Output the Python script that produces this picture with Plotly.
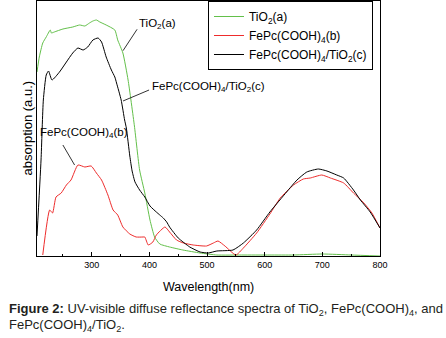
import plotly.graph_objects as go

# ---- data ----
tio2_nm = [205, 209, 215, 221, 228, 230, 235, 250, 267, 279, 288, 296, 302, 308, 314, 325, 340, 345,
           354, 363, 374, 383, 392, 401, 409, 418, 435, 458, 488, 517, 560, 609, 650, 700, 750, 800]
tio2_abs = [184, 199, 213, 219, 226, 223, 224, 227, 229, 231, 230, 233, 235, 236, 234, 231, 226, 216,
            203, 176, 130, 86, 63, 36, 19, 12, 9, 6, 3, 1, 1, 1, 1, 2, 1, 0]

fepc_nm = [215, 227, 232, 238, 247, 256, 264, 276, 288, 299, 308, 317, 328, 337, 345, 354, 366, 377,
           389, 392, 398, 406, 412, 427, 435, 447, 459, 476, 499, 511, 519, 531, 550, 563, 586, 609,
           627, 650, 667, 679, 699, 714, 737, 754, 772, 786, 800]
fepc_abs = [1, 46, 43, 59, 63, 71, 76, 91, 89, 90, 83, 76, 61, 46, 41, 29, 22, 19,
            19, 19, 11, 14, 21, 29, 24, 16, 13, 11, 10, 13, 15, 10, 1, 8, 23, 42,
            58, 71, 77, 78, 81, 78, 73, 63, 53, 43, 28]

comp_nm = [205, 212, 216, 221, 225, 231, 244, 256, 267, 276, 285, 293, 302, 311, 317, 325, 334, 340,
           343, 351, 357, 360, 366, 370, 375, 383, 392, 401, 412, 418, 424, 430, 435, 450, 470, 488,
           502, 517, 545, 563, 586, 609, 638, 656, 673, 693, 708, 725, 737, 754, 766, 783, 800]
comp_abs = [20, 96, 156, 181, 185, 176, 184, 194, 203, 208, 206, 209, 216, 218, 214, 199, 186, 179,
            173, 156, 136, 128, 100, 85, 74, 66, 59, 50, 44, 41, 38, 34, 29, 18, 9, 4,
            3, 5, 6, 13, 26, 44, 64, 76, 84, 87, 85, 81, 78, 66, 56, 44, 28]

x_ticks = [300, 400, 500, 600, 700, 800]

names = ["TiO<sub>2</sub>(a)", "FePc(COOH)<sub>4</sub>(b)", "FePc(COOH)<sub>4</sub>/TiO<sub>2</sub>(c)"]
colors = ["#63c04a", "#ee2c2c", "#000000"]

FONT = "Liberation Sans, Arial, sans-serif"

fig = go.Figure()
for nm, ab, name, col in [(tio2_nm, tio2_abs, names[0], colors[0]),
                          (fepc_nm, fepc_abs, names[1], colors[1]),
                          (comp_nm, comp_abs, names[2], colors[2])]:
    fig.add_trace(go.Scatter(x=nm, y=ab, mode="lines", name=name,
                             line=dict(color=col, width=1, shape="spline", smoothing=0.5)))

# curve labels with leader lines
labels = [
    (names[0], 413.7, 232, (378.6, 226.7, 354.2, 205.3)),
    (names[2], 502.5, 168.7, (399.4, 166, 354.2, 155)),
    (names[1], 285.9, 122.7, (249.9, 111, 270.2, 91)),
]
for txt, tx, ty, (x0, y0, x1, y1) in labels:
    fig.add_annotation(x=tx, y=ty, xref="x", yref="y", text=txt, showarrow=False,
                       xanchor="center", yanchor="middle",
                       font=dict(family=FONT, size=11.5, color="black"))
    fig.add_shape(type="line", xref="x", yref="y", x0=x0, y0=y0, x1=x1, y1=y1,
                  line=dict(color="#333333", width=1))

# axis titles
fig.add_annotation(x=-0.029, y=0.5, xref="paper", yref="paper", text="absorption (a.u.)",
                   xanchor="center", yanchor="middle",
                   textangle=-90, showarrow=False, font=dict(family=FONT, size=13, color="black"))
fig.add_annotation(x=0.5, y=-0.1216, xref="paper", yref="paper", text="Wavelength(nm)",
                   xanchor="center", yanchor="middle",
                   showarrow=False, font=dict(family=FONT, size=12.5, color="black"))

# caption
fig.add_annotation(x=-0.0883, y=-0.209, xref="paper", yref="paper", xanchor="left", yanchor="middle",
                   text="<b>Figure 2:</b> UV-visible diffuse reflectance spectra of TiO<sub>2</sub>, FePc(COOH)<sub>4</sub>, and",
                   showarrow=False, font=dict(family=FONT, size=13, color="#231f20"))
fig.add_annotation(x=-0.0883, y=-0.2745, xref="paper", yref="paper", xanchor="left", yanchor="middle",
                   text="FePc(COOH)<sub>4</sub>/TiO<sub>2</sub>.",
                   showarrow=False, font=dict(family=FONT, size=13, color="#231f20"))

fig.update_layout(
    width=446, height=338,
    margin=dict(l=37, r=66, t=1, b=82),
    paper_bgcolor="white", plot_bgcolor="white",
    showlegend=True,
    legend=dict(x=0.4985, y=1.0, xanchor="left", yanchor="top",
                bgcolor="white", bordercolor="black", borderwidth=1,
                font=dict(family=FONT, size=12, color="black"),
                itemwidth=30, tracegroupgap=0),
    xaxis=dict(range=[205, 800], tickvals=x_ticks, ticktext=[str(v) for v in x_ticks],
               showgrid=False, zeroline=False, showline=True, linecolor="black", linewidth=1,
               mirror=True, ticks="inside", ticklen=4, tickcolor="black",
               minor=dict(tickvals=[250, 350, 450, 550, 650, 750], ticks="inside", ticklen=2,
                          tickcolor="black"),
               tickfont=dict(family=FONT, size=9, color="black")),
    yaxis=dict(range=[0, 255], showticklabels=False, ticks="", showgrid=False, zeroline=False,
               showline=True, linecolor="black", linewidth=1, mirror=True),
)

fig.write_html("out.html", config={"displayModeBar": False},
               post_script="document.body.style.margin='0px';document.body.style.padding='0px';")
